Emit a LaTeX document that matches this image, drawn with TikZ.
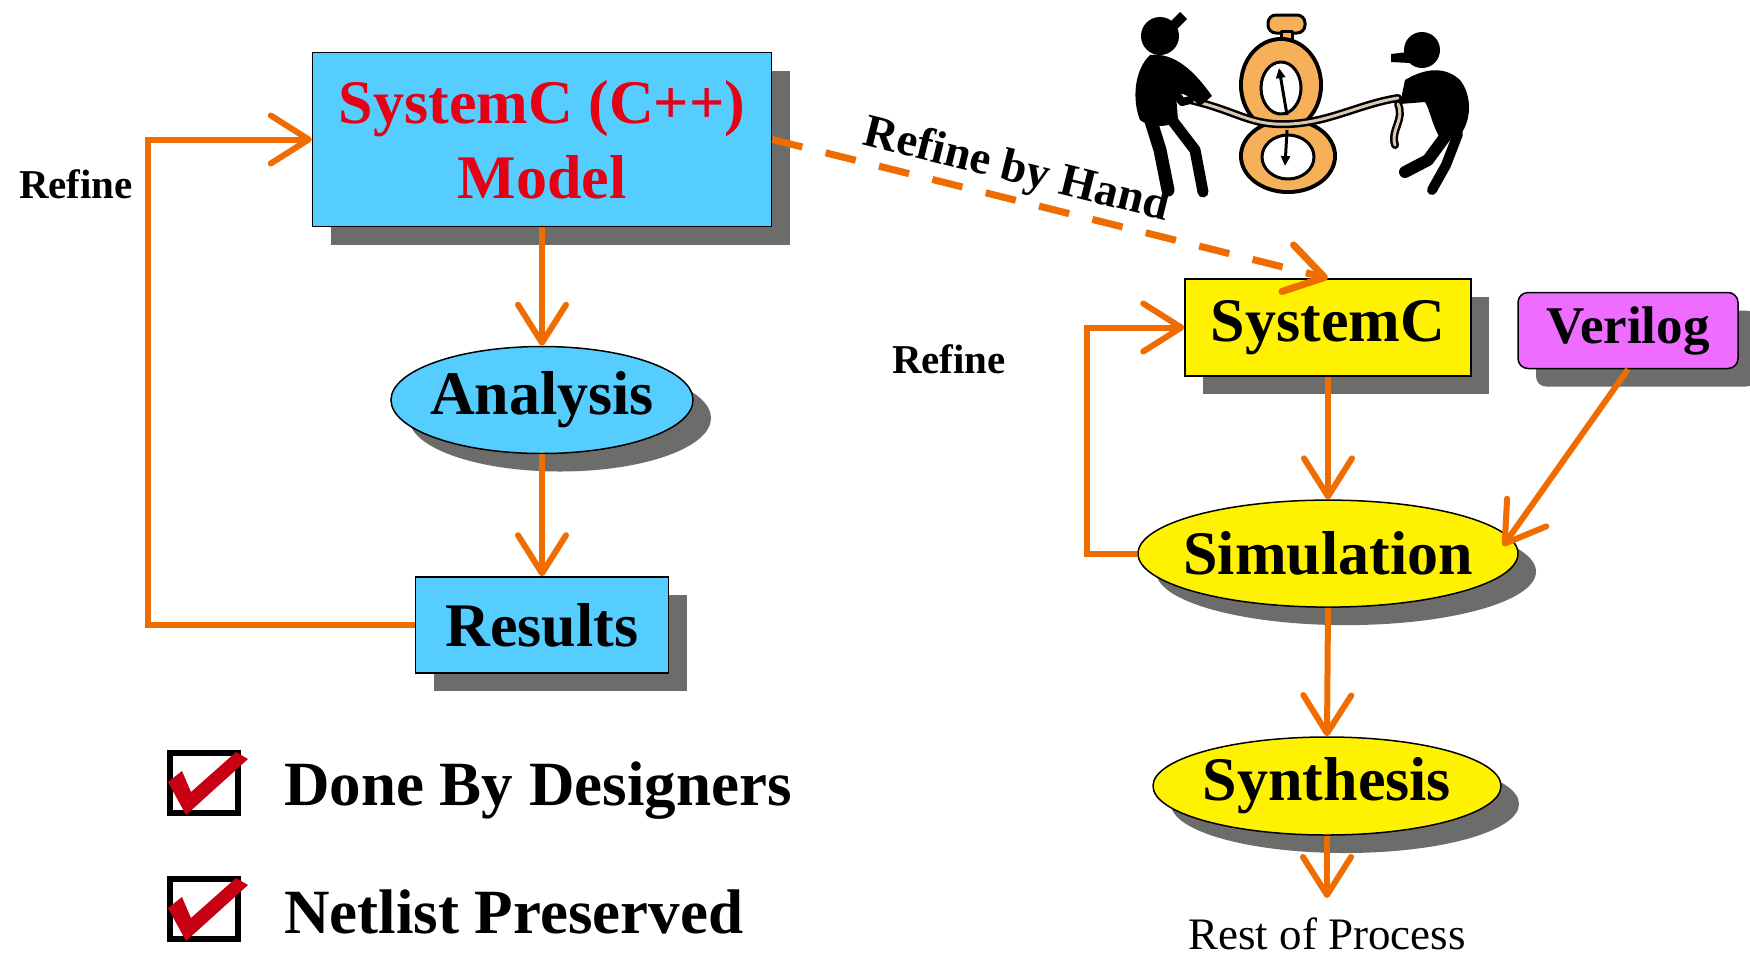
\documentclass[tikz,border=0pt]{standalone}
\usepackage{fontspec}
\setmainfont{Liberation Serif}
\usetikzlibrary{arrows.meta,shapes.geometric,shadows}

\definecolor{boxcyan}{RGB}{85,206,255}
\definecolor{flowor}{RGB}{238,108,0}
\definecolor{shgray}{RGB}{108,108,106}
\definecolor{modelred}{RGB}{230,0,22}
\definecolor{vmag}{RGB}{238,108,255}
\definecolor{checkred}{RGB}{200,0,20}
\definecolor{clockor}{RGB}{246,176,90}
\definecolor{ropetan}{RGB}{216,202,178}

\tikzset{
  shade box/.style={drop shadow={shadow xshift=18pt, shadow yshift=-18pt, fill=shgray, opacity=1}},
  stepnode/.style={draw=black, line width=1.5pt, inner sep=0pt, shade box,
    font=\fontsize{62}{75}\selectfont\bfseries},
  oval/.style={stepnode, ellipse},
  flow/.style={draw=flowor, line width=6pt, line join=miter,
    -{Straight Barb[length=38pt,width=48pt,round]}},
  handflow/.style={flow, line width=7pt, dash pattern=on 31pt off 24pt},
  refinelbl/.style={font=\fontsize{41}{45}\selectfont\bfseries},
  bigtxt/.style={font=\fontsize{63}{70}\selectfont\bfseries, anchor=base west, inner sep=0pt},
  tickbox/.style={draw=black, line width=6pt, minimum width=68pt, minimum height=60pt, inner sep=0pt},
  tickmark/.style={fill=checkred},
  blk/.style={fill=black},
  limb/.style={draw=black, line cap=round, line join=round},
}

\begin{document}
\begin{tikzpicture}[x=1pt, y=-1pt]
\useasboundingbox (0,0) rectangle (1750,954);
\fill[white] (0,0) rectangle (1750,954);

% ---- left flow: model, analysis, results ----
\node[stepnode, fill=boxcyan, text=modelred, align=center,
      minimum width=459pt, minimum height=174pt] (model) at (542,139.5) {SystemC (C++)\\Model};
\node[oval, fill=boxcyan, minimum width=302pt, minimum height=107pt] (ana) at (542,400) {\makebox[0pt]{Analysis}};
\node[stepnode, fill=boxcyan, minimum width=253pt, minimum height=96pt] (res) at (542,625) {Results};

\draw[flow] (model.south) -- (ana.north);
\draw[flow] (ana.south) -- (res.north);
\draw[flow] (res.west) -- ++(-267,0) |- (model.west);
\node[refinelbl] (refL) at (76,184) {Refine};

% ---- right flow: SystemC, Verilog, simulation, synthesis ----
\node[stepnode, fill=yellow, minimum width=286pt, minimum height=97pt] (sc) at (1328,327.5) {SystemC};
\node[stepnode, fill=vmag, rounded corners=10pt, minimum width=220pt, minimum height=76pt,
      font=\fontsize{53}{60}\selectfont\bfseries] (ver) at (1628,330.5) {Verilog};
\node[oval, fill=yellow, minimum width=380pt, minimum height=107pt] (sim) at (1328,553.6) {\makebox[0pt]{Simulation}};
\node[oval, fill=yellow, minimum width=348pt, minimum height=98pt] (syn) at (1327,786) {\makebox[0pt]{Synthesis}};
\coordinate (vtip) at (1503,546);
\coordinate (restpt) at (1327,898);
\node[font=\fontsize{45}{50}\selectfont, anchor=base, inner sep=0pt] (rest) at (1327,949) {Rest of Process};

\draw[flow] (sc.south) -- (sim.north);
\draw[flow] (sim.west) -- ++(-50,0) |- (sc.west);
\draw[flow] (ver.south) -- (vtip);
\draw[flow] (sim.south) -- (syn.north);
\draw[flow] (syn.south) -- (restpt);
\node[refinelbl] (refR) at (949,359) {Refine};

% ---- hand refinement ----
\draw[handflow] (model.east) -- (sc.north);
\node[font=\fontsize{46.5}{50}\selectfont\bfseries, rotate=-14, anchor=base, inner sep=0pt]
  (byhand) at (1013.5,182.5) {Refine by Hand};

% ---- checklist ----
\node[tickbox] (cb1) at (204,783) {};
\node[tickbox] (cb2) at (204,909) {};
\fill[tickmark, shift={(cb1.center)}] (-36,-1) -- (-22,-12) -- (-13,9) -- (32,-31) -- (44,-24) -- (-18,32) -- cycle;
\fill[tickmark, shift={(cb2.center)}] (-36,-1) -- (-22,-12) -- (-13,9) -- (32,-31) -- (44,-24) -- (-18,32) -- cycle;
\node[bigtxt] (t1) at (284,805) {Done By Designers};
\node[bigtxt] (t2) at (284,933) {Netlist Preserved};

% ---- tug of war over the stopwatch ----
\begin{scope}[line join=round]
  % stopwatch crown
  \draw[black, line width=3pt, fill=clockor, rounded corners=8pt] (1268,15) rectangle (1305,33);
  \draw[black, line width=3pt, fill=clockor] (1281,31) rectangle (1292,48);
  % figure-eight case
  \draw[black, line width=8pt] (1281,85) ellipse [x radius=38, y radius=44];
  \draw[black, line width=8pt] (1288,156) ellipse [x radius=45, y radius=34];
  \fill[clockor] (1281,85) ellipse [x radius=38, y radius=44];
  \fill[clockor] (1288,156) ellipse [x radius=45, y radius=34];
  \draw[black, line width=3pt, fill=white] (1281,88) ellipse [x radius=20, y radius=26];
  \draw[black, line width=3pt, fill=white] (1288,157) ellipse [x radius=26, y radius=22];
  % hands
  \draw[black, line width=3pt, -{Triangle[length=10pt,width=9pt]}] (1287,115) -- (1279,68);
  \draw[black, line width=3pt, -{Triangle[length=10pt,width=9pt]}] (1287,130) -- (1285,166);
  % rope
  \draw[black, line width=8pt, line cap=round] (1190,100) .. controls (1240,112) and (1250,126) .. (1290,124)
       .. controls (1330,122) and (1360,104) .. (1398,98);
  \draw[ropetan, line width=3pt, line cap=round] (1190,100) .. controls (1240,112) and (1250,126) .. (1290,124)
       .. controls (1330,122) and (1360,104) .. (1398,98);
  \draw[black, line width=8pt, line cap=round] (1398,104) .. controls (1405,120) and (1390,130) .. (1395,145);
  \draw[ropetan, line width=3pt, line cap=round] (1398,104) .. controls (1405,120) and (1390,130) .. (1395,145);
  % left puller
  \fill[blk] (1160,36) circle [radius=19];
  \fill[blk] (1168,24) -- (1180,12) -- (1187,19) -- (1176,30) -- cycle;
  \fill[blk] (1150,55) .. controls (1175,52) and (1195,72) .. (1212,96) -- (1200,106)
       .. controls (1190,96) and (1182,92) .. (1176,94) -- (1178,120)
       .. controls (1170,128) and (1150,128) .. (1140,120)
       .. controls (1132,100) and (1134,70) .. (1150,55) -- cycle;
  \draw[limb, line width=13pt] (1150,118) -- (1160,150) -- (1168,190);
  \draw[limb, line width=11pt] (1172,120) -- (1195,150) -- (1203,192);
  \draw[limb, line width=8pt] (1160,72) -- (1182,102) -- (1190,100);
  % right puller
  \fill[blk] (1422,50) circle [radius=18];
  \fill[blk] (1408,52) -- (1391,54) -- (1391,62) -- (1410,63) -- cycle;
  \fill[blk] (1405,80) .. controls (1425,68) and (1445,66) .. (1460,80)
       .. controls (1472,95) and (1472,120) .. (1460,135) -- (1440,138)
       .. controls (1432,125) and (1430,110) .. (1425,102) -- (1400,104) -- cycle;
  \draw[limb, line width=12pt] (1450,130) -- (1428,160) -- (1405,172);
  \draw[limb, line width=10pt] (1458,134) -- (1446,165) -- (1432,190);
\end{scope}
\end{tikzpicture}
\end{document}
